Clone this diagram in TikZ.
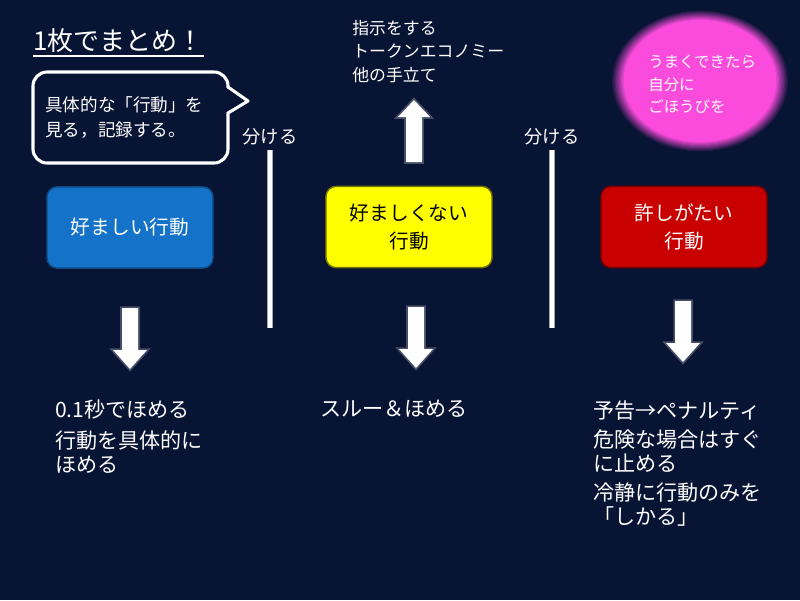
\documentclass[tikz,border=0pt]{standalone}
\usepackage{fontspec}
\setmainfont{Noto Sans CJK JP}
\definecolor{night}{RGB}{8,20,52}
\definecolor{goodblue}{RGB}{20,115,200}
\definecolor{badyellow}{RGB}{255,255,0}
\definecolor{worstred}{RGB}{200,0,0}
\definecolor{glowpink}{RGB}{250,75,220}

\begin{document}
\begin{tikzpicture}[x=0.025cm,y=-0.025cm,
  note/.style={text=white,anchor=north west,align=left,inner sep=0pt},
  box/.style={rounded corners=0.25cm,minimum width=4.15cm,minimum height=2.03cm,
    align=center,line width=1pt,font=\fontsize{14pt}{20pt}\selectfont},
  bubble/.style={white,line width=2.2pt,line join=round},
  divider/.style={white,line width=2.6pt,preaction={draw=gray!70,line width=3.8pt}},
  blockarrow/.style={fill=white,draw=white,draw opacity=0.25,line width=2.5pt}]
\fill[night] (0,0) rectangle (800,600);

\node[text=white,anchor=west,inner sep=0pt,font=\fontsize{18.5pt}{22pt}\selectfont] (title) at (33,41) {1枚でまとめ！};
\draw[white,line width=1pt] ([yshift=-2pt]title.south west) -- ([yshift=-2pt]title.south east);

\draw[bubble,rounded corners=0.35cm] (33,72) rectangle (228,163);
\fill[night] (225,87) -- (248,101) -- (225,113) -- cycle;
\draw[bubble] (228,87) -- (248,101) -- (228,113);
\node[note,font=\fontsize{12.5pt}{18pt}\selectfont] (memo) at (45,96) {具体的な「行動」を\\見る，記録する。};

\foreach \i in {0,...,9}{
  \pgfmathsetmacro\rx{88-\i*1.3}
  \pgfmathsetmacro\ry{\rx*0.8}
  \pgfmathtruncatemacro\pc{10*(\i+1)}
  \fill[glowpink!\pc!night] (700,81) ellipse[x radius=\rx,y radius=\ry];
}
\node[note,font=\fontsize{11pt}{16pt}\selectfont] (reward) at (648,55) {うまくできたら\\自分に\\ごほうびを};

\node[note,font=\fontsize{12pt}{16.7pt}\selectfont] (other) at (352,20) {指示をする\\トークンエコノミー\\他の手立て};

\node[box,fill=goodblue,draw=goodblue!65!black,text=white] (good) at (130,227.5) {好ましい行動};
\node[box,fill=badyellow,draw=badyellow!45!black,text=black] (bad) at (409,227) {好ましくない\\行動};
\node[box,fill=worstred,draw=worstred!60!black,text=white] (worst) at (684,227) {許しがたい\\行動};

\foreach \x/\n in {270/1,552/2}{
  \node[text=white,inner sep=0pt,font=\fontsize{13pt}{16pt}\selectfont] (cut\n) at (\x,137) {分ける};
  \draw[divider] (\x,150) -- (\x,328);
}

\fill[blockarrow] (406,162) -- (422,162) -- (422,117) -- (430,117) -- (414,100) -- (398,117) -- (406,117) -- cycle;
\foreach \x/\y in {130/308,416/307,683/301}{
  \fill[blockarrow] (\x-8,\y) -- (\x+8,\y) -- (\x+8,\y+42) -- (\x+17,\y+42) -- (\x,\y+61) -- (\x-17,\y+42) -- (\x-8,\y+42) -- cycle;
}

\node[note,font=\fontsize{15pt}{17pt}\selectfont] (praise) at (55,400) {0.1秒でほめる\\[4.5pt]行動を具体的に\\ほめる};
\node[note,font=\fontsize{15pt}{17pt}\selectfont] (ignore) at (320,400) {スルー＆ほめる};
\node[note,font=\fontsize{15pt}{17pt}\selectfont] (scold) at (593,400) {予告→ペナルティ\\[4pt]危険な場合はすぐ\\に止める\\[4pt]冷静に行動のみを\\「しかる」};
\end{tikzpicture}
\end{document}
